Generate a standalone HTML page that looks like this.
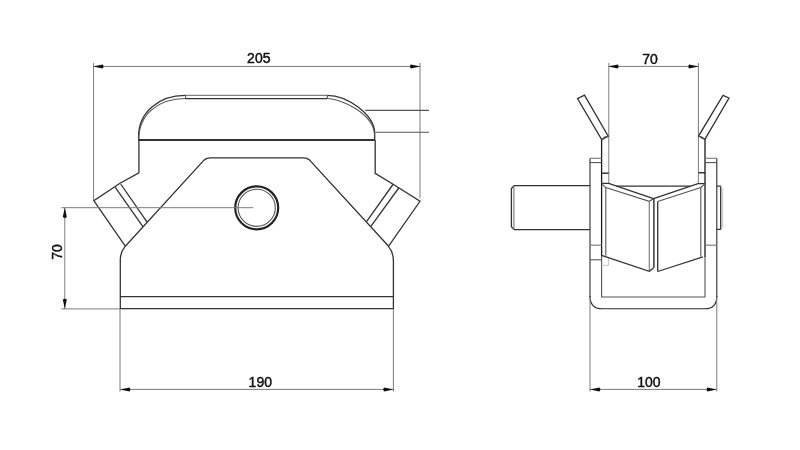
<!DOCTYPE html>
<html><head><meta charset="utf-8">
<style>
html,body{margin:0;padding:0;background:#fff;width:800px;height:450px;overflow:hidden}
svg{display:block;will-change:transform}
text{font-family:"Liberation Sans",sans-serif;font-size:14px;fill:#111;stroke:#111;stroke-width:0.45}
.d{stroke:#7c7c7c;stroke-width:1;fill:none}
.b{stroke:#333;stroke-width:1.3;fill:none}
.t{stroke:#333;stroke-width:2;fill:none}
.a{fill:#111;stroke:none}
.m{stroke:#555;stroke-width:1.1;fill:none}
.g{stroke:#808080;stroke-width:1.2;fill:none}
.u{stroke:#2a2a2a;stroke-width:1.1;fill:none}
.k{stroke:#1a1a1a;stroke-width:1.3;fill:none}
</style></head><body>
<svg width="800" height="450" viewBox="0 0 800 450">
<!-- ============ LEFT VIEW ============ -->
<!-- 205 dimension -->
<line class="d" x1="93.6" y1="66.4" x2="420" y2="66.4"/>
<line class="d" x1="93.6" y1="63" x2="93.6" y2="200"/>
<line class="d" x1="420" y1="63" x2="420" y2="198"/>
<path class="a" transform="translate(93.2 66.4) rotate(0)" d="M0 0 L9.4 -2 Q11.3 0 9.4 2 Z"/>
<path class="a" transform="translate(420.3 66.4) rotate(180)" d="M0 0 L9.4 -2 Q11.3 0 9.4 2 Z"/>
<text x="258.8" y="63" text-anchor="middle">205</text>

<!-- cap -->
<path class="b" d="M138.6 140 L138.6 136.3 C138.6 112.6 158.5 95.3 185.2 95.3"/>
<path class="b" d="M327.2 95.3 C347 95.3 374.7 114.5 374.7 133.5 L374.7 140"/>
<line class="g" x1="185.2" y1="95.3" x2="327.2" y2="95.3"/>
<path class="m" d="M138.8 139.5 C138.8 114.7 158.1 98.5 185.2 98.5"/>
<path class="m" d="M327.2 98.5 C340.5 98.5 374.5 113.6 374.5 135.4"/>
<line class="b" x1="185.2" y1="98.6" x2="327.2" y2="98.6"/>
<line class="m" x1="185.6" y1="95.3" x2="185.6" y2="98.5"/>
<line class="m" x1="327.4" y1="95.3" x2="327.4" y2="98.5"/>
<line class="t" x1="138.4" y1="140" x2="374.7" y2="140"/>
<!-- leaders right -->
<line class="m" x1="365.3" y1="110.4" x2="429" y2="110.4"/>
<line class="m" x1="375.3" y1="132.2" x2="429" y2="132.2"/>

<!-- body outline -->
<path class="b" d="M138.9 140 L138.9 172.9 L120 183.3 L93.8 200.7 L125.3 246.2 Q120.3 252 120.3 260 L120.3 308.7 L393.4 308.7 L393.4 261 Q393.4 252 388.4 246.4 L420 201.3 L394.7 185.3 L375.2 173.3 L375.2 140"/>
<!-- left nozzle bands -->
<line class="b" x1="115.1" y1="187.1" x2="142.9" y2="226.7"/>
<line class="b" x1="120.7" y1="184" x2="147.1" y2="222.2"/>
<!-- right nozzle bands -->
<line class="b" x1="393.3" y1="184" x2="366.7" y2="221.3"/>
<line class="b" x1="398.7" y1="188" x2="370.7" y2="226.7"/>
<!-- inner trapezoid -->
<path class="b" d="M125.3 246.2 L202.6 161.6 Q205.5 157.8 210.5 157.8 L303.5 157.8 Q308.5 157.8 311 161.6 L388.4 246"/>
<!-- bottom band -->
<line class="b" x1="120.3" y1="296.6" x2="393.4" y2="296.6"/>
<!-- circle -->
<circle cx="256.7" cy="207.8" r="21.5" stroke="#222" stroke-width="2.2" fill="none"/>
<circle cx="256.7" cy="207.8" r="18.6" class="m"/>

<!-- 70 dimension -->
<line class="d" x1="61.3" y1="207.7" x2="253.3" y2="207.7"/>
<line class="d" x1="61.3" y1="308.9" x2="120" y2="308.9"/>
<line class="d" x1="64.8" y1="207.7" x2="64.8" y2="308.9"/>
<path class="a" transform="translate(64.8 207.6) rotate(90)" d="M0 0 L9.4 -2 Q11.3 0 9.4 2 Z"/>
<path class="a" transform="translate(64.8 309) rotate(-90)" d="M0 0 L9.4 -2 Q11.3 0 9.4 2 Z"/>
<text transform="translate(62.4 252) rotate(-90)" text-anchor="middle">70</text>

<!-- 190 dimension -->
<line class="d" x1="120" y1="309" x2="120" y2="391.5"/>
<line class="d" x1="393.4" y1="309" x2="393.4" y2="391.5"/>
<line class="d" x1="120.3" y1="389.4" x2="393.4" y2="389.4"/>
<path class="a" transform="translate(120 389.5) rotate(0)" d="M0 0 L9.4 -2 Q11.3 0 9.4 2 Z"/>
<path class="a" transform="translate(393.6 389.5) rotate(180)" d="M0 0 L9.4 -2 Q11.3 0 9.4 2 Z"/>
<text x="260.3" y="387" text-anchor="middle">190</text>

<!-- ============ RIGHT VIEW ============ -->
<!-- 70 dim -->
<line class="d" x1="608.8" y1="66.4" x2="698.4" y2="66.4"/>
<line class="d" x1="608.8" y1="63" x2="608.8" y2="183.5"/>
<line class="d" x1="698.4" y1="63" x2="698.4" y2="183.5"/>
<path class="a" transform="translate(608.3 66.4) rotate(0)" d="M0 0 L9.4 -2 Q11.3 0 9.4 2 Z"/>
<path class="a" transform="translate(698.6 66.4) rotate(180)" d="M0 0 L9.4 -2 Q11.3 0 9.4 2 Z"/>
<text x="650.1" y="63.6" text-anchor="middle">70</text>

<!-- rods -->
<path class="b" d="M577.5 98.6 L584.5 95.2 L608.2 136.2 L601.7 139.6 Z"/>
<path class="b" d="M729 98 L723 95.3 L698.5 136.1 L704.9 139.4 Z"/>
<path class="m" d="M601.8 139.6 Q604.5 136.3 608.3 136.4"/>
<path class="m" d="M698.6 136.2 Q702.5 136.3 704.8 139.3"/>
<!-- posts / inner U -->
<path class="k" d="M601.6 139.6 L601.6 256"/>
<path class="k" d="M705 139.4 L705 257"/>
<path class="m" d="M601.6 255 L601.6 297 L705 297 L705 256"/>
<line class="k" x1="601.6" y1="173.2" x2="608.7" y2="173.2"/>
<line class="k" x1="698.5" y1="172.8" x2="705" y2="172.8"/>

<!-- plates / outer U -->
<path class="u" d="M590 297 L590 158.3"/><line class="g" x1="590" y1="158.3" x2="601.6" y2="158.3"/>
<line class="m" x1="590" y1="162.6" x2="601.6" y2="162.6"/>
<path class="u" d="M716.8 158.3 L716.8 297"/><line class="g" x1="705" y1="158.3" x2="716.8" y2="158.3"/>
<line class="m" x1="705" y1="162.6" x2="716.8" y2="162.6"/>
<line class="g" x1="590" y1="245.2" x2="601.6" y2="245.2"/>
<line class="g" x1="705" y1="245.2" x2="716.8" y2="245.2"/>
<line class="m" x1="590" y1="259.8" x2="601.6" y2="259.8"/>
<path d="M608.4 257.8 L608.4 265.3 L601.6 265.3" stroke="#c4c4c4" stroke-width="1" fill="none"/>
<path class="u" d="M590 296 Q590 308.8 602 308.8 L705 308.8 Q716.8 308.8 716.8 296"/>

<!-- pin -->
<path class="b" d="M590 185.7 L514.2 185.7 L511.4 188.5 L511.4 226.8 L514.2 229.6 L590 229.6"/>
<line class="g" x1="513.9" y1="186.5" x2="513.9" y2="229"/>
<!-- right tab -->
<path class="b" d="M716.8 186.2 L720.7 186.2 L720.7 229.3 L716.8 229.3"/>
<path d="M720.7 186.2 L722.7 188.5 L722.7 227.5 L720.7 229.3" stroke="#c8c8c8" stroke-width="1" fill="none"/>

<!-- rollers -->
<line class="b" x1="616" y1="186.2" x2="690.5" y2="186.2"/>
<!-- left roller -->
<path class="b" d="M601.6 183.4 L608.7 183.4 L653.5 198.7"/>
<path class="m" d="M601.6 183.6 L605.8 187.6 L649.3 201.3 L653.5 198.7"/>
<line class="m" x1="605.8" y1="187.6" x2="605.8" y2="255.8"/>
<line class="g" x1="649.3" y1="201.3" x2="649.3" y2="271.3"/>
<path class="b" d="M601.6 255.4 L649.3 271.3 L653.7 267.7"/>
<!-- right roller -->
<path class="b" d="M653.5 198.7 L698 183.6 L705 183.6"/>
<path class="m" d="M705 183.8 L700.8 187.4 L657.7 201.5"/>
<line class="k" x1="653.9" y1="198.7" x2="653.9" y2="267.7"/>
<line class="b" x1="657.7" y1="201.5" x2="657.7" y2="271.5"/>
<line class="m" x1="700.8" y1="187.4" x2="700.8" y2="256.5"/>
<path class="b" d="M657.7 271.5 L703 256.9"/>
<!-- 100 dimension -->
<line class="d" x1="590" y1="297" x2="590" y2="391.5"/>
<line class="d" x1="716.8" y1="297" x2="716.8" y2="391.5"/>
<line class="d" x1="589.8" y1="389.4" x2="716.9" y2="389.4"/>
<path class="a" transform="translate(590 389.5) rotate(0)" d="M0 0 L9.4 -2 Q11.3 0 9.4 2 Z"/>
<path class="a" transform="translate(716.9 389.5) rotate(180)" d="M0 0 L9.4 -2 Q11.3 0 9.4 2 Z"/>
<text x="648.9" y="386.8" text-anchor="middle">100</text>
</svg>
</body></html>
